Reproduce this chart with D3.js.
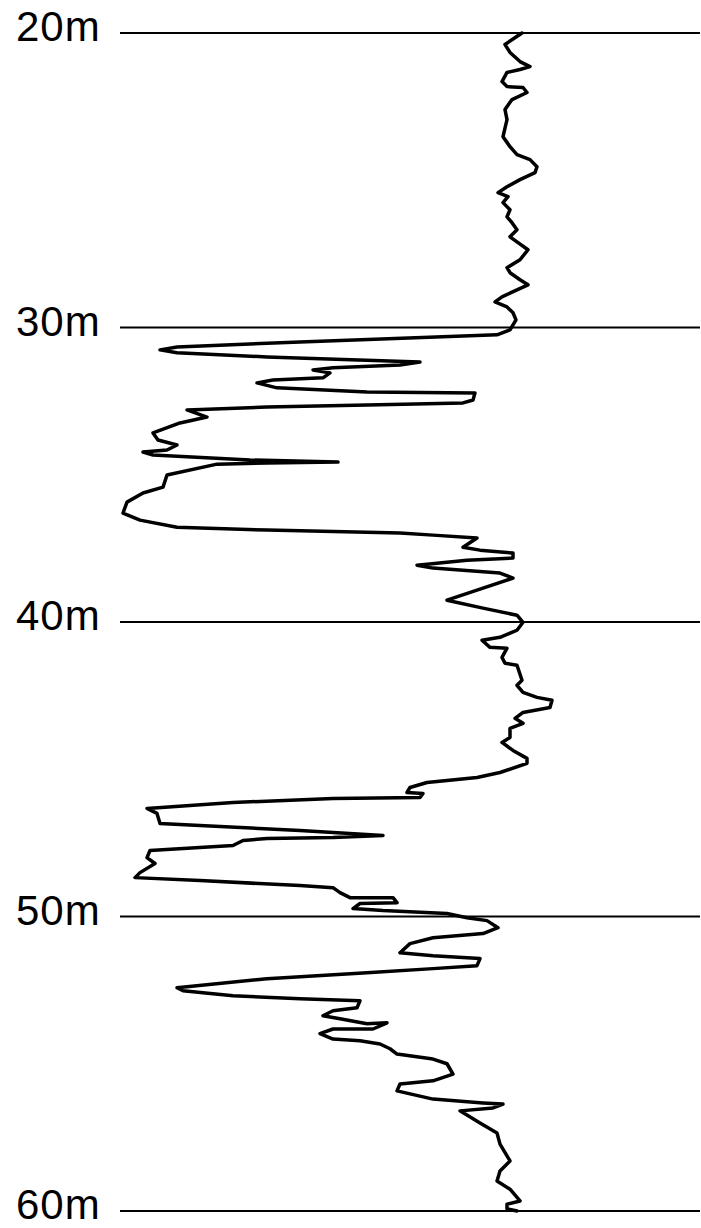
<!DOCTYPE html>
<html>
<head>
<meta charset="utf-8">
<script src="https://cdn.jsdelivr.net/npm/d3@7"></script>
<style>
  body { margin: 0; background: #fff; }
  svg { display: block; }
</style>
</head>
<body>
<div id="chart"></div>
<script>
/////////////////////////////////
// DATA - log trace
//////////////////////////////////

// depth down the hole, metres
var depth = [
  20.00, 20.39, 20.66, 20.97, 21.14, 21.24, 21.34, 21.65, 21.82, 21.85,
  22.02, 22.26, 22.60, 22.94, 23.52, 23.86, 24.13, 24.30, 24.54, 24.74,
  24.98, 25.22, 25.42, 25.56, 25.76, 26.00, 26.24, 26.44, 26.68, 26.92,
  27.12, 27.36, 27.70, 27.97, 28.14, 28.38, 28.55, 28.72, 28.96, 29.13,
  29.30, 29.50, 29.74, 30.08, 30.25, 30.49, 30.66, 30.76, 30.86, 31.00,
  31.17, 31.27, 31.37, 31.44, 31.54, 31.71, 31.78, 31.88, 32.05, 32.19,
  32.22, 32.46, 32.56, 32.63, 32.70, 32.80, 33.04, 33.24, 33.58, 33.82,
  33.99, 34.16, 34.23, 34.33, 34.50, 34.57, 34.60, 34.64, 35.01, 35.42,
  35.62, 35.93, 36.30, 36.54, 36.78, 36.88, 36.98, 37.05, 37.15, 37.46,
  37.56, 37.66, 37.83, 37.90, 38.07, 38.17, 38.34, 38.51, 38.85, 39.26,
  39.53, 39.77, 40.01, 40.28, 40.52, 40.62, 40.86, 40.89, 41.20, 41.40,
  41.47, 41.98, 42.15, 42.39, 42.56, 42.66, 42.90, 43.07, 43.27, 43.44,
  43.61, 43.92, 44.09, 44.36, 44.63, 44.80, 45.11, 45.28, 45.45, 45.62,
  45.79, 45.82, 45.96, 45.99, 46.13, 46.33, 46.50, 46.84, 46.91, 47.08,
  47.25, 47.32, 47.35, 47.42, 47.59, 47.76, 48.00, 48.20, 48.51, 48.68,
  48.78, 48.95, 49.02, 49.19, 49.36, 49.36, 49.53, 49.56, 49.73, 49.80,
  49.90, 50.04, 50.14, 50.38, 50.58, 50.72, 50.92, 51.23, 51.33, 51.43,
  51.67, 51.77, 51.91, 52.11, 52.42, 52.52, 52.69, 52.79, 52.86, 53.10,
  53.20, 53.37, 53.47, 53.64, 53.61, 53.82, 53.82, 53.98, 54.16, 54.22,
  54.33, 54.49, 54.67, 54.84, 55.00, 55.35, 55.58, 55.69, 55.92, 56.20,
  56.33, 56.37, 56.50, 56.60, 57.01, 57.35, 57.73, 58.30, 58.64, 58.98,
  59.26, 59.66, 59.77, 59.93, 60.00
];

// log reading at each depth (arbitrary units)
var reading = [
  100.5, 96.25, 97.5, 100, 102.5, 100, 96.75, 95.5, 96.75, 100.75,
  101.75, 98, 96.25, 96.75, 95.75, 97.5, 99.25, 102.5, 104.25, 103.75,
  100, 96.75, 94.5, 97, 95.75, 97.5, 96.75, 98, 99.25, 97.5,
  99.5, 102, 100, 96.75, 97.5, 100, 102, 99.25, 95.5, 93.75,
  96.75, 98.25, 99, 97.5, 94.25, 45, 14.25, 10, 14.25, 36.75,
  75, 70, 53.25, 48.25, 52.5, 50.75, 38.25, 34.25, 39.25, 61.75,
  88.75, 88.25, 85.75, 61.75, 36.75, 16.75, 21.75, 15, 8.25, 9.5,
  14.25, 11.75, 5.75, 8.25, 32.5, 54.5, 36.75, 24.25, 11.75, 10.75,
  5.75, 1.75, 0.75, 5, 14.25, 36.75, 70, 78.25, 89.25, 85.75,
  90, 98.25, 98.25, 86.75, 74.25, 78.25, 95, 98.25, 90.75, 81.75,
  90.75, 99.25, 100.75, 99.25, 95, 90.5, 92.5, 96.75, 95.5, 96.25,
  99.25, 100.5, 99.25, 100.75, 104.25, 108, 107.5, 100.75, 98.75, 100.75,
  97.5, 97.5, 95.5, 98.25, 101.75, 101.75, 95, 89.25, 76.75, 72.5,
  71.75, 75.75, 75, 53.25, 28.25, 6.75, 9.25, 10, 20, 45,
  65.75, 53.25, 36.75, 30.75, 28.25, 7.5, 6.75, 8.75, 5, 3.75,
  20, 45, 53.25, 55, 57.5, 68.25, 69.25, 60, 58.25, 65.75,
  81.75, 86.75, 91.75, 94.5, 90.75, 78.25, 72.5, 70, 78.25, 90,
  89.25, 78.25, 61.75, 36.75, 14.25, 15.75, 28.25, 45, 60, 59.25,
  53.25, 50.75, 55, 61.75, 66.75, 63.25, 53.25, 50, 53.25, 60,
  65, 67.5, 69.25, 78.25, 81.75, 83.25, 78.25, 70, 69.25, 78.25,
  90.75, 95.75, 93.25, 85, 90, 94.25, 95, 97.5, 95, 94.25,
  97.5, 100, 96.75, 96.75, 99.25
];

var depthTicks = [20, 30, 40, 50, 60];
var tickLabels = ["20m", "30m", "40m", "50m", "60m"];

/////////////////////////////////
// SIZES & SCALES
//////////////////////////////////

var width = 701;
var height = 1228;

var svg = d3.select("#chart").append("svg")
  .attr("width", width)
  .attr("height", height);

var y = d3.scaleLinear()
  .domain([20, 60])
  .range([33, 1211]);

var x = d3.scaleLinear()
  .domain([0, 145])
  .range([120, 700]);

/////////////////////////////////
// DEPTH LINES + LABELS
//////////////////////////////////

svg.selectAll(".depthLine")
  .data(depthTicks)
  .enter()
  .append("line")
    .attr("class", "depthLine")
    .attr("x1", x(0))
    .attr("x2", x(145))
    .attr("y1", function(d) { return y(d); })
    .attr("y2", function(d) { return y(d); })
    .attr("stroke", "#000")
    .attr("stroke-width", 2);

// labels sit just about centred on their line (60m kept inside the page)
svg.selectAll(".depthLabel")
  .data(depthTicks)
  .enter()
  .append("text")
    .attr("class", "depthLabel")
    .attr("x", 16)
    .attr("y", function(d) { return y(d) + 8; })
    .attr("font-family", "Liberation Sans, Arial, sans-serif")
    .attr("font-size", 42)
    .attr("letter-spacing", 1)
    .attr("fill", "#000")
    .text(function(d, i) { return tickLabels[i]; });

/////////////////////////////////
// THE TRACE
//////////////////////////////////

var points = depth.map(function(d, i) {
  return {depth: d, value: reading[i]};
});

var line = d3.line()
  .x(function(d) { return x(d.value); })
  .y(function(d) { return y(d.depth); });

svg.append("path")
  .datum(points)
  .attr("d", line)
  .attr("fill", "none")
  .attr("stroke", "#000")
  .attr("stroke-width", 3.5)
  .attr("stroke-linejoin", "round")
  .attr("stroke-linecap", "round");
</script>
</body>
</html>
